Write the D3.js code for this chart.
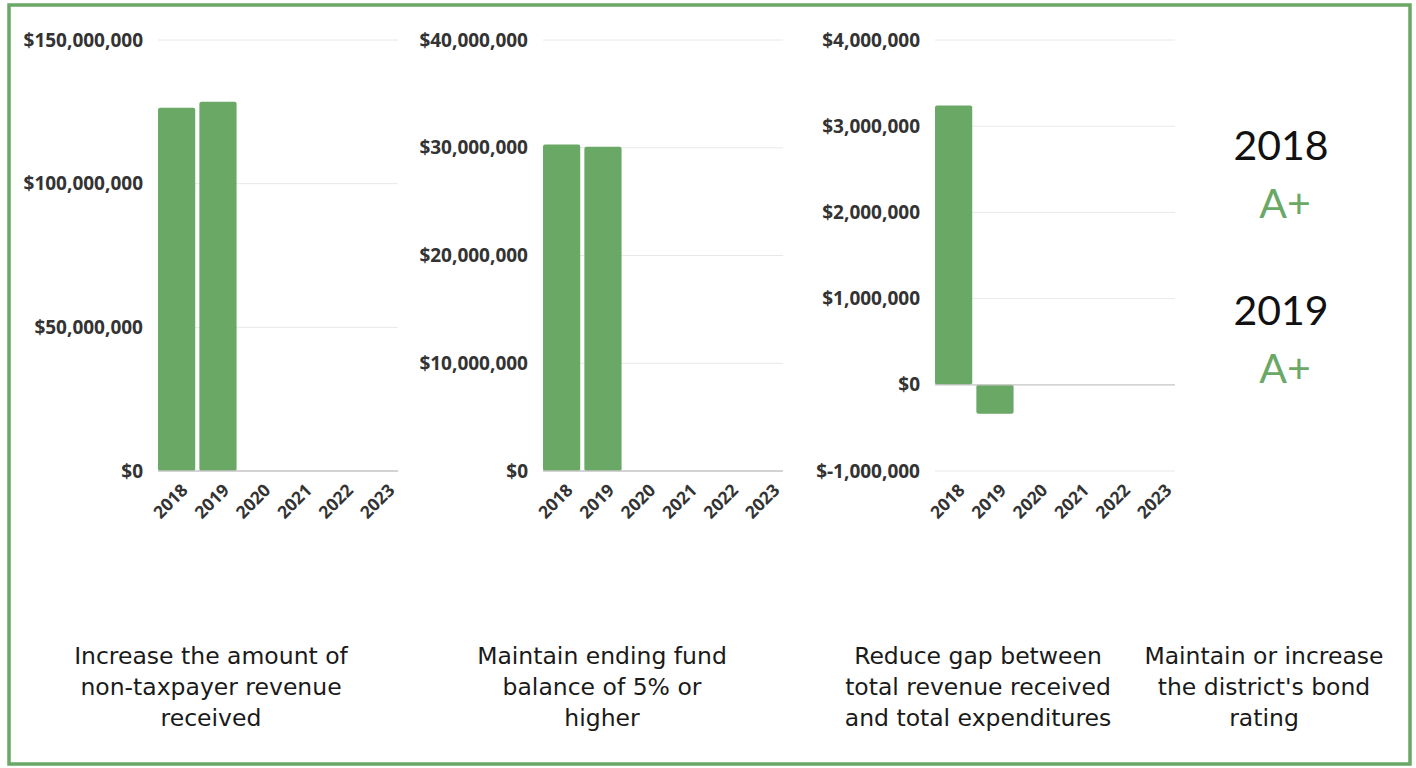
<!DOCTYPE html>
<html>
<head>
<meta charset="utf-8">
<script src="https://cdn.jsdelivr.net/npm/d3@7"></script>
<style>
  body { margin: 0; background: #fff; }
  svg { display: block; }
</style>
</head>
<body>
<div id="lacaja"></div>
<script>
// datos
const years = ["2018", "2019", "2020", "2021", "2022", "2023"];
const revenueValues = [126400000, 128500000, null, null, null, null];
const fundValues = [30300000, 30100000, null, null, null, null];
const gapValues = [3240000, -336000, null, null, null, null];

const revenueTicks = [0, 50000000, 100000000, 150000000];
const fundTicks = [0, 10000000, 20000000, 30000000, 40000000];
const gapTicks = [-1000000, 0, 1000000, 2000000, 3000000, 4000000];

const captions = [
  ["Increase the amount of", "non-taxpayer revenue", "received"],
  ["Maintain ending fund", "balance of 5% or", "higher"],
  ["Reduce gap between", "total revenue received", "and total expenditures"],
  ["Maintain or increase", "the district's bond", "rating"]
];

const ratingYears = ["2018", "2019"];
const ratings = ["A+", "A+"];

const width = 1416, height = 768;
const green = "#6aa866";

const svg = d3.select("#lacaja").append("svg")
  .attr("width", width)
  .attr("height", height);

// marco verde
svg.append("rect")
  .attr("x", 9).attr("y", 5)
  .attr("width", 1401).attr("height", 759)
  .attr("fill", "none")
  .attr("stroke", green)
  .attr("stroke-width", 3.5);

const fmt = v => (v < 0 ? "$-" : "$") + d3.format(",")(Math.abs(v));

function panel(left, values, ticks) {
  const right = left + 240;
  const x = d3.scaleBand().domain(years).range([left, right + 4]).paddingInner(0.1).paddingOuter(0);
  const y = d3.scaleLinear().domain(d3.extent(ticks)).range([471, 40]);

  const g = svg.append("g");

  // lineas de la grilla
  g.selectAll("line.grid")
    .data(ticks.filter(t => t !== 0))
    .enter().append("line")
      .attr("x1", left).attr("x2", right)
      .attr("y1", d => y(d)).attr("y2", d => y(d))
      .attr("stroke", "#e8e8e8")
      .attr("stroke-width", 1);

  // etiquetas eje y
  g.selectAll("text.ylab")
    .data(ticks)
    .enter().append("text")
      .attr("x", left - 15)
      .attr("y", d => y(d))
      .attr("dy", "0.35em")
      .attr("text-anchor", "end")
      .style("font-family", "'Open Sans', sans-serif")
      .style("font-weight", "700")
      .style("font-size", "19px")
      .style("fill", "#333")
      .text(fmt);

  // barras
  g.selectAll("rect.bar")
    .data(years.map((yr, i) => ({ yr, v: values[i] })).filter(d => d.v !== null))
    .enter().append("rect")
      .attr("x", d => x(d.yr))
      .attr("width", x.bandwidth())
      .attr("y", d => Math.min(y(d.v), y(0)))
      .attr("height", d => Math.abs(y(d.v) - y(0)))
      .attr("rx", 2)
      .attr("fill", green);

  // linea base
  g.append("line")
    .attr("x1", left).attr("x2", right)
    .attr("y1", y(0)).attr("y2", y(0))
    .attr("stroke", "#c4c4c4")
    .attr("stroke-width", 1.3);

  // años rotados
  g.selectAll("text.xlab")
    .data(years)
    .enter().append("text")
      .attr("transform", d => `translate(${x(d) + x.bandwidth() / 2 + 8},${487}) rotate(-45)`)
      .attr("text-anchor", "end")
      .attr("dy", "0.35em")
      .style("font-family", "'Open Sans', sans-serif")
      .style("font-weight", "700")
      .style("font-size", "17.5px")
      .style("fill", "#333")
      .text(d => d);
}

panel(158, revenueValues, revenueTicks);
panel(543, fundValues, fundTicks);
panel(935, gapValues, gapTicks);

// calificacion de bonos
const ratingY = [160, 325];
ratingYears.forEach((yr, i) => {
  svg.append("text")
    .attr("x", 1281).attr("y", ratingY[i])
    .attr("text-anchor", "middle")
    .style("font-family", "Lato, sans-serif")
    .style("font-size", "41px")
    .style("fill", "#111")
    .text(yr);
  svg.append("text")
    .attr("x", 1285).attr("y", ratingY[i] + 58)
    .attr("text-anchor", "middle")
    .style("font-family", "Lato, sans-serif")
    .style("font-size", "41px")
    .style("fill", green)
    .text(ratings[i]);
});

// textos de abajo
const captionX = [211, 602, 978, 1264];
captions.forEach((lines, i) => {
  const t = svg.append("text")
    .attr("text-anchor", "middle")
    .style("font-family", "'DejaVu Sans', sans-serif")
    .style("font-size", "23.5px")
    .style("fill", "#1a1a1a");
  lines.forEach((ln, j) => {
    t.append("tspan")
      .attr("x", captionX[i])
      .attr("y", 664 + j * 31)
      .text(ln);
  });
});
</script>
</body>
</html>
